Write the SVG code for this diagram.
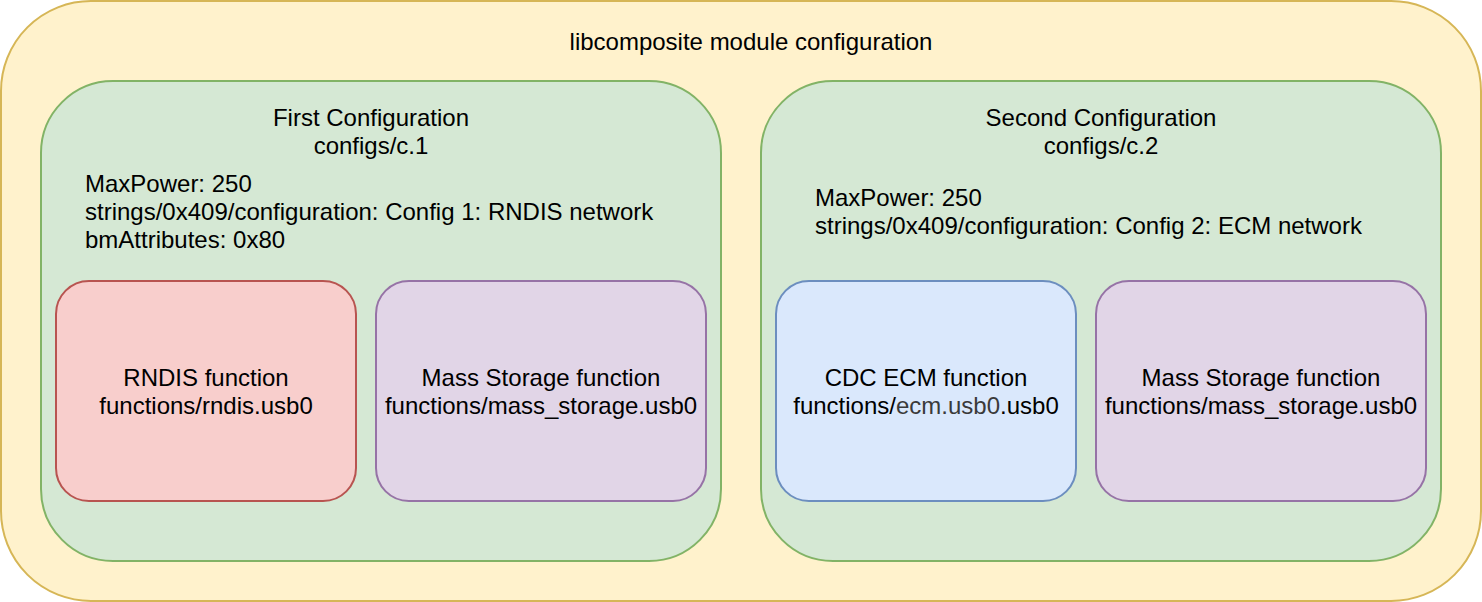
<svg xmlns="http://www.w3.org/2000/svg" width="1482" height="602" viewBox="0 0 1482 602">
<style>
text{font-family:"Liberation Sans",Arial,Helvetica,sans-serif;font-size:24px;fill:#000}
.c{text-anchor:middle}
.sw{stroke-width:2}
</style>
<rect width="1482" height="602" fill="#ffffff"/>
<g id="outer">
<rect class="sw" x="1" y="1" width="1480" height="600" rx="90" ry="90" fill="#fff2cc" stroke="#d6b656"/>
<text class="c" x="751" y="50">libcomposite module configuration</text>
</g>
<g id="config1">
<rect class="sw" x="41" y="81" width="680" height="480" rx="72" ry="72" fill="#d5e8d4" stroke="#82b366"/>
<text class="c" x="371" y="126">First Configuration</text>
<text class="c" x="371" y="154">configs/c.1</text>
<text x="85" y="192">MaxPower: 250</text>
<text x="85" y="220">strings/0x409/configuration: Config 1: RNDIS network</text>
<text x="85" y="248">bmAttributes: 0x80</text>
</g>
<g id="config2">
<rect class="sw" x="761" y="81" width="680" height="480" rx="72" ry="72" fill="#d5e8d4" stroke="#82b366"/>
<text class="c" x="1101" y="126">Second Configuration</text>
<text class="c" x="1101" y="154">configs/c.2</text>
<text x="815" y="206">MaxPower: 250</text>
<text x="815" y="234">strings/0x409/configuration: Config 2: ECM network</text>
</g>
<g id="rndis">
<rect class="sw" x="56" y="281" width="300" height="220" rx="33" ry="33" fill="#f8cecc" stroke="#b85450"/>
<text class="c" x="206" y="386">RNDIS function</text>
<text class="c" x="206" y="414">functions/rndis.usb0</text>
</g>
<g id="mass1">
<rect class="sw" x="376" y="281" width="330" height="220" rx="33" ry="33" fill="#e1d5e7" stroke="#9673a6"/>
<text class="c" x="541" y="386">Mass Storage function</text>
<text class="c" x="541" y="414">functions/mass_storage.usb0</text>
</g>
<g id="ecm">
<rect class="sw" x="776" y="281" width="300" height="220" rx="33" ry="33" fill="#dae8fc" stroke="#6c8ebf"/>
<text class="c" x="926" y="386">CDC ECM function</text>
<text class="c" x="926" y="414">functions/<tspan fill="#3a3a3a">ecm.usb0</tspan>.usb0</text>
</g>
<g id="mass2">
<rect class="sw" x="1096" y="281" width="330" height="220" rx="33" ry="33" fill="#e1d5e7" stroke="#9673a6"/>
<text class="c" x="1261" y="386">Mass Storage function</text>
<text class="c" x="1261" y="414">functions/mass_storage.usb0</text>
</g>
<g id="connectors"></g>
</svg>
